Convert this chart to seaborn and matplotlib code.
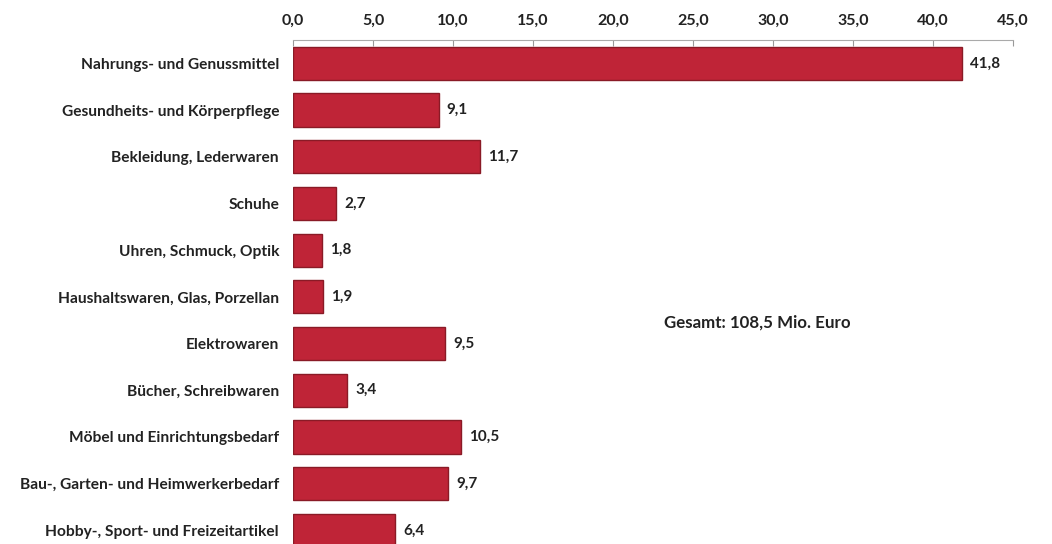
import matplotlib
matplotlib.use("Agg")
import matplotlib.pyplot as plt
import seaborn as sns
import pandas as pd

categories = [
    "Nahrungs- und Genussmittel",
    "Gesundheits- und Körperpflege",
    "Bekleidung, Lederwaren",
    "Schuhe",
    "Uhren, Schmuck, Optik",
    "Haushaltswaren, Glas, Porzellan",
    "Elektrowaren",
    "Bücher, Schreibwaren",
    "Möbel und Einrichtungsbedarf",
    "Bau-, Garten- und Heimwerkerbedarf",
    "Hobby-, Sport- und Freizeitartikel",
]
values = [41.8, 9.1, 11.7, 2.7, 1.8, 1.9, 9.5, 3.4, 10.5, 9.7, 6.4]
x_ticks = [0, 5, 10, 15, 20, 25, 30, 35, 40, 45]
total_label = "Gesamt: 108,5 Mio. Euro"

df = pd.DataFrame({"Sortiment": categories, "Mio. Euro": values})

sns.set_theme(style="white")
plt.rcParams["font.family"] = ["Lato", "DejaVu Sans"]

W, H = 1052, 544
fig = plt.figure(figsize=(W / 100, H / 100), dpi=100)
fig.patch.set_facecolor("white")

# axes: top edge at 40 px, rows of ~46.7 px, the last row runs past the bottom edge
row = 46.7
top_px = 40
left_px, right_px = 293, 1013
height_px = row * len(categories)
ax = fig.add_axes([left_px / W, 1 - (top_px + height_px) / H,
                   (right_px - left_px) / W, height_px / H])

sns.barplot(data=df, x="Mio. Euro", y="Sortiment", orient="h", ax=ax,
            color="#BF2437", edgecolor="#8A1A26", linewidth=1.0,
            width=0.71, saturation=1)

ax.set_xlim(0, 45)
ax.set_ylim(len(categories) - 0.5, -0.5)
ax.set_xlabel("")
ax.set_ylabel("")

ax.xaxis.tick_top()
ax.set_xticks(x_ticks)
ax.set_xticklabels([f"{t:.1f}".replace(".", ",") for t in x_ticks],
                   fontsize=11.5, fontweight="bold", color="#222222")
ax.tick_params(axis="x", which="both", direction="in", length=4, width=0.8,
               color="#999999", pad=9, top=True, bottom=False)
ax.tick_params(axis="y", length=0, pad=10)
for lbl in ax.get_yticklabels():
    lbl.set_fontsize(11.2)
    lbl.set_fontweight("bold")
    lbl.set_color("#222222")

for side in ["right", "bottom", "left"]:
    ax.spines[side].set_visible(False)
ax.spines["top"].set_color("#aaaaaa")
ax.spines["top"].set_linewidth(0.8)

for i, v in enumerate(values):
    ax.text(v + 0.5, i, f"{v:.1f}".replace(".", ","), va="center", ha="left",
            fontsize=11, fontweight="bold", color="#222222")

ax.text(23.2, 5.55, total_label, va="center", ha="left",
        fontsize=12.2, fontweight="bold", color="#222222")

fig.savefig("out.png", dpi=100, facecolor="white")
